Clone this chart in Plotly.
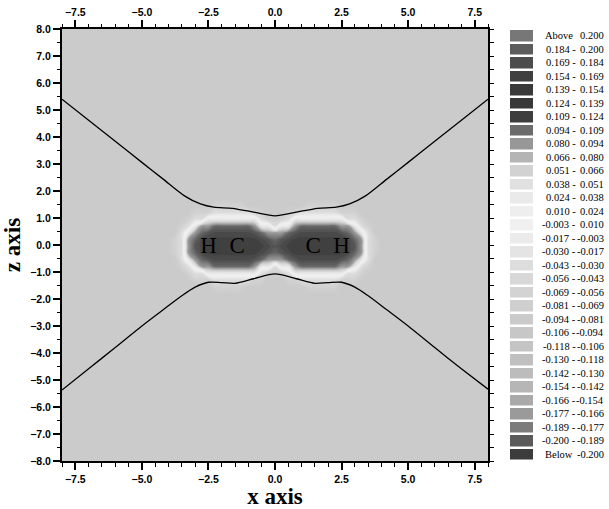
import plotly.graph_objects as go

# ---------------- legend levels (from the key) ----------------
EDGES = [-0.200, -0.189, -0.177, -0.166, -0.154, -0.142, -0.130, -0.118, -0.106, -0.094,
         -0.081, -0.069, -0.056, -0.043, -0.030, -0.017, -0.003, 0.010, 0.024, 0.038,
         0.051, 0.066, 0.080, 0.094, 0.109, 0.124, 0.139, 0.154, 0.169, 0.184, 0.200]
# swatch colours, Below ... Above
BIN_COLORS = ["#3c3c3c", "#5a5a5a", "#7c7c7c", "#9a9a9a", "#aaaaaa", "#b6b6b6", "#bcbcbc",
              "#c0c0c0", "#c4c4c4", "#c7c7c7", "#cbcbcb", "#cfcfcf", "#d3d3d3", "#d8d8d8",
              "#dddddd", "#e4e4e4", "#ebebeb", "#f0f0f0", "#eeeeee", "#eaeaea", "#e0e0e0",
              "#d2d2d2", "#b4b4b4", "#979797", "#6c6c6c", "#3e3e3e", "#383838", "#3a3a3a",
              "#404040", "#4c4c4c", "#5c5c5c", "#777777"]
VMIN, VMAX = -0.21, 0.21

# ---------------- density-difference field ----------------
GRID_X = [-8, -4.0, -3.75, -3.5, -3.25, -3.0, -2.75, -2.5, -2.25, -2.0, -1.75, -1.5, -1.25,
          -1.0, -0.75, -0.5, -0.25, 0.0, 0.25, 0.5, 0.75, 1.0, 1.25, 1.5, 1.75, 2.0, 2.25,
          2.5, 2.75, 3.0, 3.25, 3.5, 3.75, 4.0, 8]
GRID_Z = [-8, -2.05, -1.8, -1.55, -1.3, -1.05, -0.8, -0.55, -0.3, -0.05, 0.2, 0.45, 0.7,
          0.95, 1.2, 1.45, 1.7, 1.95, 8]
# value of each digit used in FIELD_ROWS
LEVELS = [-0.085, -0.065, -0.035, 0.030, 0.082, 0.098, 0.104, 0.107, 0.110, 0.112]
FIELD_ROWS = [  # bottom (z=-8) to top (z=8), one digit = LEVELS index per grid column
    "0 00000 00000 00000 00000 00000 00000 000 0",
    "0 00000 00000 00000 00000 00000 00000 000 0",
    "0 00000 00000 00000 00000 00000 00000 000 0",
    "0 00000 00111 11000 00000 01111 10000 000 0",
    "0 00001 11222 22211 00011 22222 21110 000 0",
    "0 00012 23333 33332 11123 33333 33221 000 0",
    "0 00123 44555 55543 32334 55555 54432 100 0",
    "0 00234 56777 77765 44456 77777 76543 200 0",
    "0 01245 78888 88887 65678 88888 88754 210 0",
    "0 01246 79999 99998 76789 99999 99764 210 0",
    "0 01245 78888 88887 65678 88888 88754 210 0",
    "0 00234 56777 77765 44456 77777 76543 200 0",
    "0 00123 44555 55543 32334 55555 54432 100 0",
    "0 00012 23333 33332 11123 33333 33221 000 0",
    "0 00001 11222 22211 00011 22222 21110 000 0",
    "0 00000 00111 11000 00000 01111 10000 000 0",
    "0 00000 00000 00000 00000 00000 00000 000 0",
    "0 00000 00000 00000 00000 00000 00000 000 0",
    "0 00000 00000 00000 00000 00000 00000 000 0",
]

# ---------------- the black contour (hourglass) ----------------
UPPER_X = [-8, -7, -6, -5, -4.2, -3.4, -2.8, -2.3, -1.6, -0.8, 0, 0.8, 1.6, 2.3, 2.8, 3.4, 4.2, 5, 6, 7, 8]
UPPER_Z = [5.4, 4.62, 3.84, 3.06, 2.44, 1.82, 1.52, 1.4, 1.36, 1.22, 1.08, 1.22, 1.36, 1.4, 1.52, 1.82, 2.44, 3.06, 3.84, 4.62, 5.4]
LOWER_X = [-8, -7, -6, -5, -4.2, -3.5, -3.0, -2.5, -2.0, -1.5, -0.8, 0, 0.8, 1.5, 2.0, 2.5, 3.0, 3.5, 4.2, 5, 6, 7, 8]
LOWER_Z = [-5.37, -4.58, -3.8, -3.0, -2.4, -1.88, -1.56, -1.38, -1.39, -1.42, -1.25, -1.07, -1.25, -1.42, -1.39, -1.38, -1.56, -1.88, -2.4, -3.0, -3.8, -4.58, -5.34]

# ---------------- atom labels ----------------
ATOM_X = [-2.5, -1.42, 1.43, 2.5]
ATOM_Z = [-0.07, -0.07, -0.07, -0.07]
ATOM_LABELS = ["H", "C", "C", "H"]

X_TICKS = [-7.5, -5.0, -2.5, 0.0, 2.5, 5.0, 7.5]
Z_TICKS = [-8, -7, -6, -5, -4, -3, -2, -1, 0, 1, 2, 3, 4, 5, 6, 7, 8]

# ---------------- derived ----------------
bin_vals = [VMIN] + [(EDGES[k] + EDGES[k + 1]) / 2 for k in range(len(EDGES) - 1)] + [VMAX]
colorscale = [[(v - VMIN) / (VMAX - VMIN), c] for v, c in zip(bin_vals, BIN_COLORS)]
field = [[LEVELS[int(ch)] for ch in row.replace(" ", "")] for row in FIELD_ROWS]

W, H = 609, 509
ML, MR, MT, MB = 62, 2, 29, 48
PW = W - ML - MR


def px(x):
    return (x - ML) / PW


fig = go.Figure()
fig.add_trace(go.Contour(x=GRID_X, y=GRID_Z, z=field, colorscale=colorscale, zmin=VMIN, zmax=VMAX,
                         zauto=False, autocontour=False,
                         contours=dict(start=-0.2, end=0.2, size=0.003, coloring="fill", showlines=False),
                         line=dict(width=0, smoothing=1.3),
                         showscale=False, hoverinfo="skip", xaxis="x", yaxis="y"))
fig.add_trace(go.Scatter(x=UPPER_X, y=UPPER_Z, mode="lines", line=dict(color="black", width=1.3, shape="spline", smoothing=0.8),
                         xaxis="x3", yaxis="y", showlegend=False, hoverinfo="skip"))
fig.add_trace(go.Scatter(x=LOWER_X, y=LOWER_Z, mode="lines", line=dict(color="black", width=1.3, shape="spline", smoothing=0.8),
                         xaxis="x", yaxis="y4", showlegend=False, hoverinfo="skip"))
fig.add_trace(go.Scatter(x=ATOM_X, y=ATOM_Z, mode="text", text=ATOM_LABELS, textposition="middle center",
                         textfont=dict(family="Liberation Serif", size=23, color="black"),
                         xaxis="x", yaxis="y", showlegend=False, hoverinfo="skip"))
# legend key as a one-column heatmap
fig.add_trace(go.Heatmap(x=[0], y=list(range(len(bin_vals))), z=[[v] for v in bin_vals],
                         colorscale=colorscale, zmin=VMIN, zmax=VMAX, showscale=False, ygap=2.5,
                         hoverinfo="skip", xaxis="x2", yaxis="y2"))

tickfont = dict(family="Liberation Sans", size=10.5, color="black", weight="bold")
titlefont = dict(family="Liberation Serif", size=23, color="black", weight="bold")
common = dict(showgrid=False, zeroline=False, showline=True, linecolor="black", linewidth=2,
              ticks="outside", tickcolor="black", tickwidth=1.5, ticklen=7, tickfont=tickfont,
              range=[-8, 8])
minor = dict(tickmode="linear", tick0=0, dtick=0.5, ticks="outside", ticklen=3.5, tickwidth=1.2,
             tickcolor="black", showgrid=False)
DX = 426 / PW

annotations = []
n = len(bin_vals)
lfont = dict(family="Liberation Serif", size=10.5, color="black")
for k in range(n):
    if k == 0 or k == n - 1:
        left = "Below" if k == 0 else "Above"
        right = f"{EDGES[0]:.3f}" if k == 0 else f"{EDGES[-1]:.3f}"
        annotations.append(dict(x=px(543), y=k, xref="paper", yref="y2", text=left, showarrow=False,
                                xanchor="left", yanchor="middle", font=lfont))
    else:
        left = f"{EDGES[k - 1]:.3f} -"
        right = f"{EDGES[k]:.3f}"
        annotations.append(dict(x=px(578), y=k, xref="paper", yref="y2", text=left, showarrow=False,
                                xanchor="right", yanchor="middle", font=lfont))
    annotations.append(dict(x=px(606), y=k, xref="paper", yref="y2", text=right, showarrow=False,
                            xanchor="right", yanchor="middle", font=lfont))

fig.update_layout(
    width=W, height=H, margin=dict(l=ML, r=MR, t=MT, b=MB),
    paper_bgcolor="white", plot_bgcolor="white", showlegend=False,
    xaxis=dict(common, domain=[0, DX], anchor="y", tickmode="array", tickvals=X_TICKS, tickformat=".1f",
               minor=minor, title=dict(text="x axis", font=titlefont, standoff=6)),
    xaxis3=dict(common, overlaying="x", side="top", anchor="y", tickmode="array", tickvals=X_TICKS,
                tickformat=".1f", minor=minor),
    yaxis=dict(common, domain=[0, 1], anchor="x", tickmode="array", tickvals=Z_TICKS, tickformat=".1f",
               minor=minor, title=dict(text="z axis", font=titlefont, standoff=8)),
    yaxis4=dict(common, overlaying="y", side="right", anchor="x", tickmode="linear", tick0=0, dtick=0.5,
                ticklen=4, tickwidth=1.2, showticklabels=False),
    xaxis2=dict(domain=[px(510), px(533)], anchor="y2", range=[-0.5, 0.5], visible=False, fixedrange=True),
    yaxis2=dict(domain=[0, 1], anchor="x2", range=[-0.5, n - 0.5], visible=False, fixedrange=True),
    annotations=annotations,
)

fig.write_html("out.html", config={"displayModeBar": False},
               post_script="document.body.style.margin='0';document.body.style.overflow='hidden';")
